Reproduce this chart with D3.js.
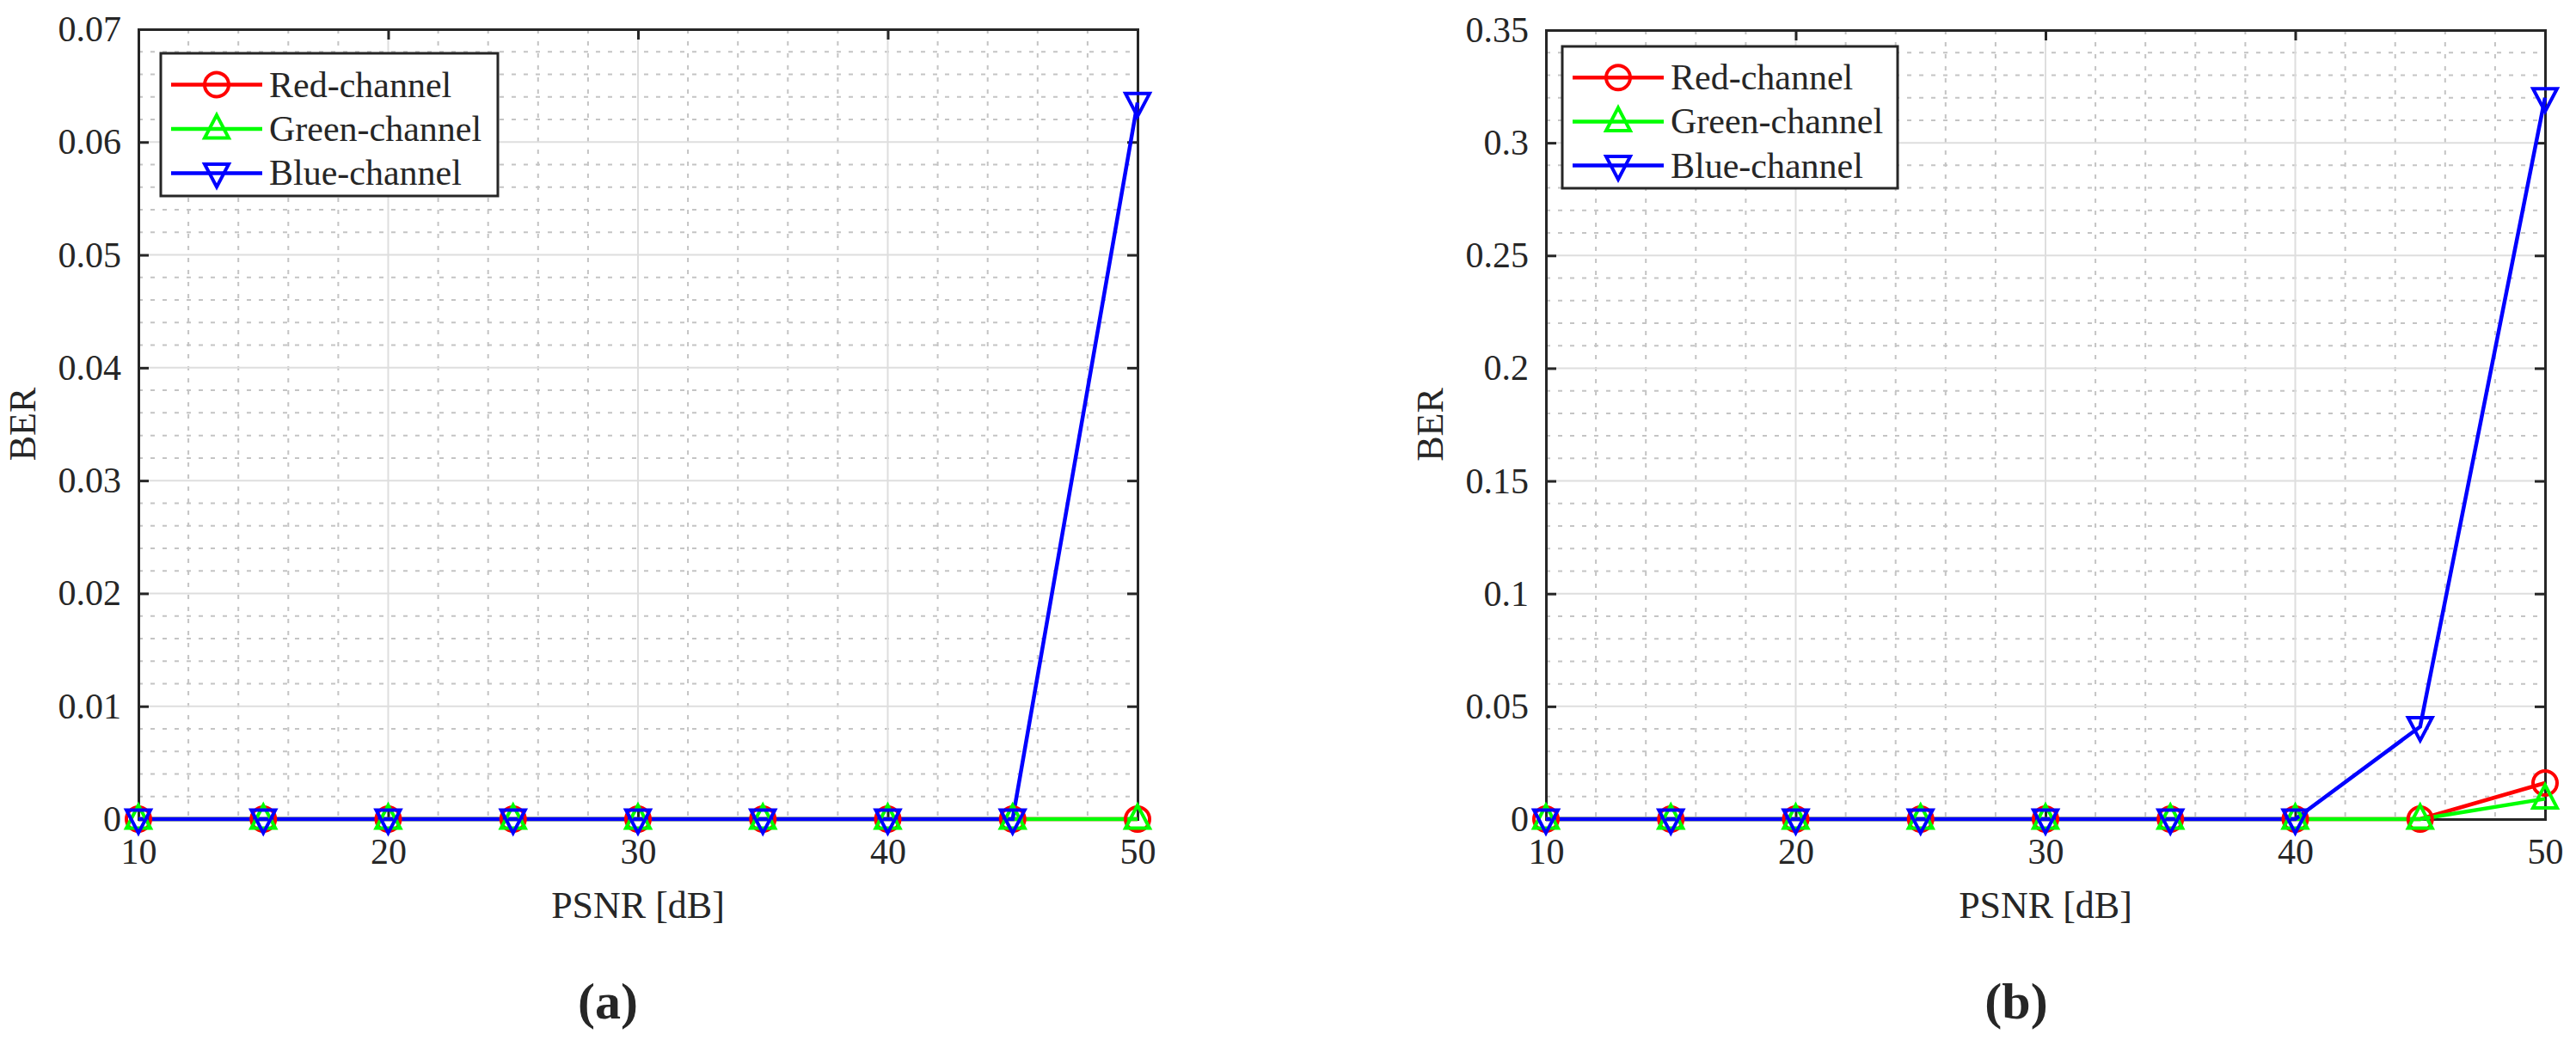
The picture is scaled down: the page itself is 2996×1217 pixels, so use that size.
<!DOCTYPE html>
<html><head><meta charset="utf-8">
<script src="https://cdn.jsdelivr.net/npm/d3@7"></script>
<style>body{margin:0;background:#fff}text{font-family:"Liberation Serif",serif;fill:#262626}</style>
</head><body><svg id="chart" width="2996" height="1217"></svg>
<script>
// Data
var psnr = [10, 15, 20, 25, 30, 35, 40, 45, 50];
var redA = [0, 0, 0, 0, 0, 0, 0, 0, 0];
var greenA = [0, 0, 0, 0, 0, 0, 0, 0, 0];
var blueA = [0, 0, 0, 0, 0, 0, 0, 0, 0.0635];
var redB = [0, 0, 0, 0, 0, 0, 0, 0, 0.016];
var greenB = [0, 0, 0, 0, 0, 0, 0, 0, 0.009];
var blueB = [0, 0, 0, 0, 0, 0, 0, 0.041, 0.32];
var xTicks = [10, 20, 30, 40, 50];
var yTicksA = [0, 0.01, 0.02, 0.03, 0.04, 0.05, 0.06, 0.07];
var yTicksB = [0, 0.05, 0.1, 0.15, 0.2, 0.25, 0.3, 0.35];
var names = ["Red-channel", "Green-channel", "Blue-channel"];
var colors = ["#ff0000", "#00ff00", "#0000ff"];

var svg = d3.select("#chart");

function panel(x0, x1, y0, y1, yMax, yTicks, yMinorStep, series, legendBox, caption) {
  var x = d3.scaleLinear().domain([10, 50]).range([x0, x1]);
  var y = d3.scaleLinear().domain([0, yMax]).range([y1, y0]);
  var g = svg.append("g");

  // minor grid
  var xMinor = d3.range(10, 50.01, 2).filter(function(v) { return v % 10 !== 0; });
  var yMinor = d3.range(0, yMax + 1e-9, yMinorStep).filter(function(v) {
    return Math.abs(v / (yTicks[1]) - Math.round(v / yTicks[1])) > 1e-6; });
  g.selectAll(".mx").data(xMinor).enter().append("line")
    .attr("x1", x).attr("x2", x).attr("y1", y0).attr("y2", y1)
    .attr("stroke", "#c4c4c4").attr("stroke-width", 2).attr("stroke-dasharray", "5,9");
  g.selectAll(".my").data(yMinor).enter().append("line")
    .attr("y1", y).attr("y2", y).attr("x1", x0).attr("x2", x1)
    .attr("stroke", "#c4c4c4").attr("stroke-width", 2).attr("stroke-dasharray", "5,9");
  // major grid
  g.selectAll(".gx").data(xTicks).enter().append("line")
    .attr("x1", x).attr("x2", x).attr("y1", y0).attr("y2", y1)
    .attr("stroke", "#dedede").attr("stroke-width", 2);
  g.selectAll(".gy").data(yTicks).enter().append("line")
    .attr("y1", y).attr("y2", y).attr("x1", x0).attr("x2", x1)
    .attr("stroke", "#dedede").attr("stroke-width", 2);

  // axes (ticks inward on all sides)
  var ax = [
    [d3.axisBottom(x).tickValues(xTicks).tickSize(-12).tickPadding(22).tickFormat(d3.format("d")), "translate(0," + y1 + ")"],
    [d3.axisTop(x).tickValues(xTicks).tickSize(-12).tickFormat(""), "translate(0," + y0 + ")"],
    [d3.axisLeft(y).tickValues(yTicks).tickSize(-12).tickPadding(20).tickFormat(function(d) { return d === 0 ? "0" : d3.format("")(+d.toFixed(3)); }), "translate(" + x0 + ",0)"],
    [d3.axisRight(y).tickValues(yTicks).tickSize(-12).tickFormat(""), "translate(" + x1 + ",0)"]
  ];
  ax.forEach(function(a) {
    var s = g.append("g").attr("transform", a[1]).call(a[0]);
    s.selectAll("path,line").attr("stroke", "#262626").attr("stroke-width", 3);
    s.selectAll("text").style("font-size", "42px").attr("fill", "#262626").style("font-family", "Liberation Serif");
  });

  // series
  var line = d3.line().x(function(d, i) { return x(psnr[i]); }).y(function(d) { return y(d); });
  series.forEach(function(vals, k) {
    g.append("path").datum(vals).attr("d", line).attr("fill", "none")
      .attr("stroke", colors[k]).attr("stroke-width", 4.5);
  });
  series.forEach(function(vals, k) {
    vals.forEach(function(v, i) { marker(g, k, x(psnr[i]), y(v)); });
  });

  // legend
  var lx = legendBox[0], ly = legendBox[1], lw = legendBox[2], lh = legendBox[3];
  g.append("rect").attr("x", lx).attr("y", ly).attr("width", lw).attr("height", lh)
    .attr("fill", "#fff").attr("stroke", "#262626").attr("stroke-width", 3);
  names.forEach(function(n, k) {
    var yy = ly + lh * (0.22 + 0.31 * k);
    g.append("line").attr("x1", lx + 12).attr("x2", lx + 118).attr("y1", yy).attr("y2", yy)
      .attr("stroke", colors[k]).attr("stroke-width", 4.5);
    marker(g, k, lx + 65, yy);
    g.append("text").attr("x", lx + 126).attr("y", yy + 14).style("font-size", "42px")
      .attr("fill", "#000").text(n);
  });

  // axis labels and caption
  g.append("text").attr("x", (x0 + x1) / 2).attr("y", y1 + 115).attr("text-anchor", "middle")
    .style("font-size", "44px").text("PSNR [dB]");
  g.append("text").attr("transform", "translate(" + (x0 - 120) + "," + ((y0 + y1) / 2) + ") rotate(-90)")
    .attr("text-anchor", "middle").style("font-size", "44px").text("BER");
  g.append("text").attr("x", caption[1]).attr("y", 1185).attr("text-anchor", "middle")
    .style("font-size", "60px").style("font-weight", "bold").attr("fill", "#000").text(caption[0]);
}

function marker(g, k, cx, cy) {
  var r = 14, p;
  if (k === 0) {
    g.append("circle").attr("cx", cx).attr("cy", cy).attr("r", r)
      .attr("fill", "none").attr("stroke", colors[k]).attr("stroke-width", 4);
    return;
  }
  if (k === 1) p = [[cx, cy - r * 1.15], [cx + r, cy + r * 0.75], [cx - r, cy + r * 0.75]];
  else p = [[cx, cy + r * 1.15], [cx + r, cy - r * 0.75], [cx - r, cy - r * 0.75]];
  g.append("polygon").attr("points", p.map(function(q) { return q.join(","); }).join(" "))
    .attr("fill", "none").attr("stroke", colors[k]).attr("stroke-width", 4);
}

panel(161, 1323, 34, 953, 0.07, yTicksA, 0.002, [redA, greenA, blueA], [187, 62, 392, 166], ["(a)", 707]);
panel(1798, 2960, 35, 953, 0.35, yTicksB, 0.01, [redB, greenB, blueB], [1817, 54, 390, 165], ["(b)", 2345]);
</script></body></html>
